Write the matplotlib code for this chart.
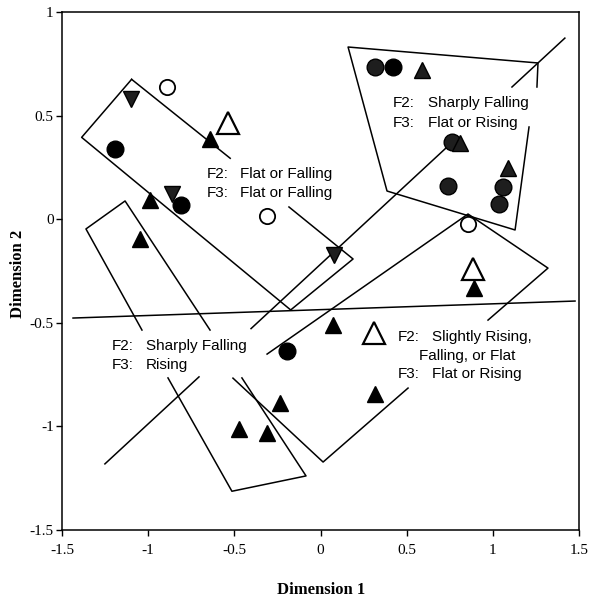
import matplotlib
matplotlib.use('Agg')
import matplotlib.pyplot as plt

# filled triangles
tri_x = [-0.641, -0.989, -1.047, 0.074, -0.235, -0.471, -0.312, 0.316, 0.891]
tri_y = [0.386, 0.093, -0.096, -0.510, -0.889, -1.014, -1.033, -0.845, -0.332]
# shaded triangles (upper right group)
tri2_x = [0.587, 0.809, 1.090]
tri2_y = [0.720, 0.366, 0.246]
# open triangles
otri_x = [-0.535, 0.887, 0.310]
otri_y = [0.466, -0.238, -0.548]
# filled circles
dot_x = [-1.192, -0.809, -0.193, 0.419]
dot_y = [0.339, 0.069, -0.635, 0.736]
# shaded circles
dot2_x = [0.316, 0.761, 0.742, 1.061, 1.038]
dot2_y = [0.736, 0.374, 0.160, 0.157, 0.073]
# open circles
ocir_x = [-0.889, -0.309, 0.858]
ocir_y = [0.637, 0.015, -0.023]
# shaded down triangles
dtri_x = [-1.101, -0.860, 0.078]
dtri_y = [0.580, 0.120, -0.173]

# region outlines, broken where the labels sit
segments = [
	# upper left box
	[(-1.096, 0.675), (-1.386, 0.395), (-0.173, -0.438), (0.189, -0.192), (-0.183, 0.059)],
	[(-1.096, 0.675), (-0.524, 0.294)],
	# upper right box
	[(1.256, 0.638), (1.262, 0.754), (0.160, 0.831), (0.386, 0.136), (1.129, -0.052), (1.210, 0.445)],
	# long diagonal
	[(1.418, 0.874), (1.111, 0.638)],
	[(0.730, 0.345), (-0.403, -0.528)],
	[(-0.705, -0.761), (-1.251, -1.181)],
	# lower right box
	[(-0.310, -0.651), (0.856, 0.025), (1.320, -0.236), (0.972, -0.487)],
	[(0.508, -0.815), (0.015, -1.172), (-0.508, -0.767)],
	# lower left box
	[(-1.036, -0.535), (-1.361, -0.047), (-1.134, 0.088), (-0.641, -0.535)],
	[(-0.885, -0.766), (-0.514, -1.313), (-0.084, -1.239), (-0.456, -0.766)],
	# near horizontal line
	[(-1.436, -0.477), (1.477, -0.395)],
]

# (x of "F2:"/"F3:", x of description, y of each line, lines)
labels = [
	(-0.659, -0.467, [0.218, 0.126], ['F2:', 'F3:'], ['Flat or Falling', 'Flat or Falling']),
	(0.421, 0.624, [0.559, 0.466], ['F2:', 'F3:'], ['Sharply Falling', 'Flat or Rising']),
	(-1.209, -1.012, [-0.611, -0.704], ['F2:', 'F3:'], ['Sharply Falling', 'Rising']),
	(0.450, 0.645, [-0.567, -0.749], ['F2:', 'F3:'], ['Slightly Rising,', 'Flat or Rising']),
]

fig = plt.figure(figsize=(5.9, 5.99), dpi=100)
ax = fig.add_axes([62/590, 1-530/599, 517/590, 518/599])

for seg in segments:
	xs = [p[0] for p in seg]
	ys = [p[1] for p in seg]
	ax.plot(xs, ys, color='black', lw=1.1, zorder=1)

ax.plot(dot_x, dot_y, 'o', ms=12, color='black', zorder=3)
ax.plot(dot2_x, dot2_y, 'o', ms=12, color='#1e1e1e', mec='black', zorder=3)
ax.plot(ocir_x, ocir_y, 'o', ms=11, mfc='white', mec='black', mew=1.3, zorder=3)
ax.plot(tri_x, tri_y, '^', ms=12, color='black', zorder=4)
ax.plot(tri2_x, tri2_y, '^', ms=12, color='#1e1e1e', mec='black', zorder=4)
ax.plot(otri_x, otri_y, '^', ms=16, mfc='white', mec='black', mew=1.6, zorder=4)
ax.plot(dtri_x, dtri_y, 'v', ms=12, color='#1e1e1e', mec='black', zorder=4)

txt = dict(family='Liberation Sans', size=11, va='center', ha='left')
for x1, x2, ys, heads, descs in labels:
	for y, h, d in zip(ys, heads, descs):
		ax.text(x1, y, h, **txt)
		ax.text(x2, y, d, **txt)
ax.text(0.572, -0.660, 'Falling, or Flat', **txt)

ax.set_xlim(-1.5, 1.5)
ax.set_ylim(-1.5, 1)
ax.set_xticks([-1.5, -1, -0.5, 0, 0.5, 1, 1.5])
ax.set_xticklabels(['-1.5', '-1', '-0.5', '0', '0.5', '1', '1.5'])
ax.set_yticks([-1.5, -1, -0.5, 0, 0.5, 1])
ax.set_yticklabels(['-1.5', '-1', '-0.5', '0', '0.5', '1'])
ax.tick_params(direction='out', length=4, width=1, labelsize=11, pad=2)
ax.tick_params(axis='x', pad=6)
for lab in ax.get_xticklabels() + ax.get_yticklabels():
	lab.set_family('Liberation Serif')
for sp in ax.spines.values():
	sp.set_linewidth(1.1)

fig.text(321/590, 1-590/599, 'Dimension 1', ha='center', va='center',
	family='Liberation Serif', fontweight='bold', size=12)
fig.text(18/590, 1-274/599, 'Dimension 2', ha='center', va='center', rotation=90,
	family='Liberation Serif', fontweight='bold', size=12)

fig.savefig('out.png', dpi=100)
